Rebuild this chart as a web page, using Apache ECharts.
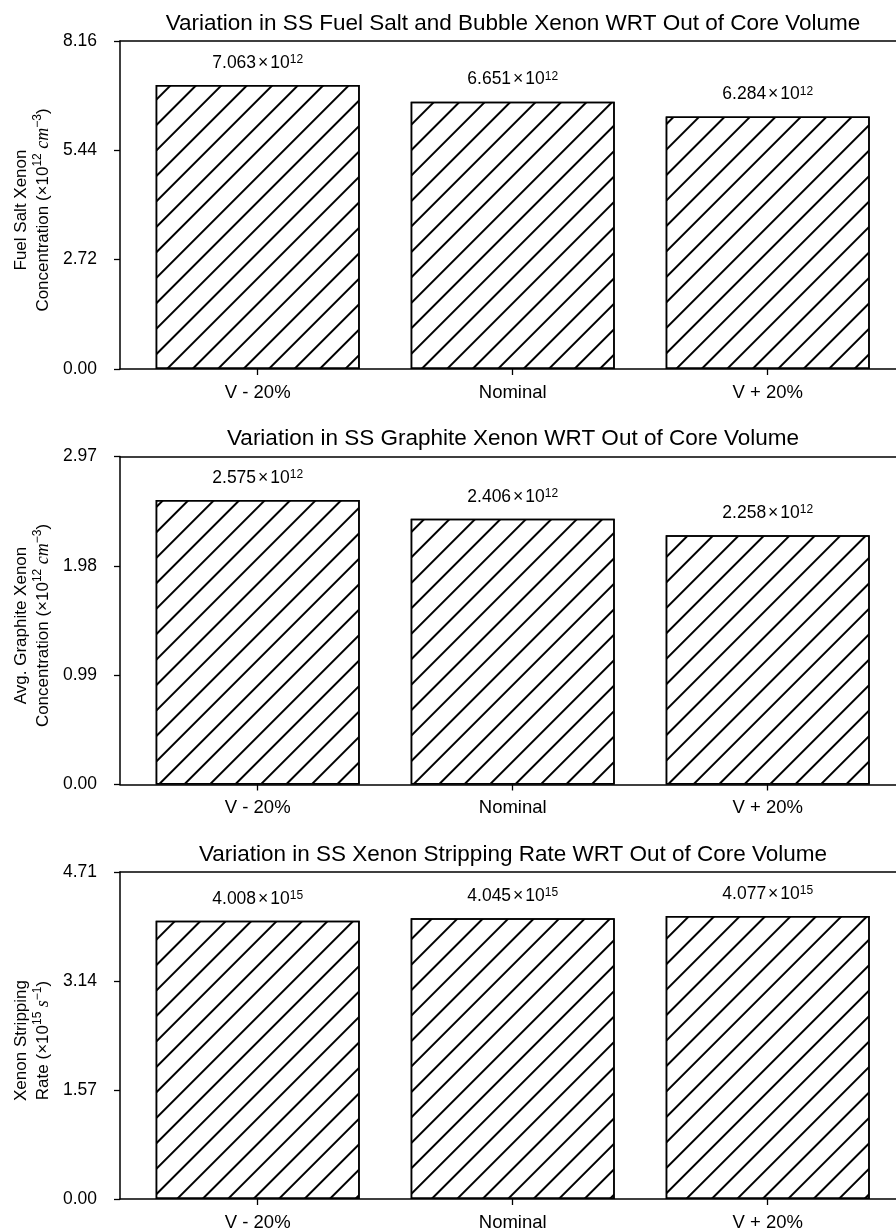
<!DOCTYPE html>
<html>
<head>
<meta charset="utf-8">
<title>Variation in SS Xenon WRT Out of Core Volume</title>
<script src="https://cdn.jsdelivr.net/npm/echarts@6/dist/echarts.min.js"></script>
<style>
  html, body { margin: 0; padding: 0; background: #fff; }
  #main { width: 896px; height: 1232px; }
</style>
</head>
<body>
<div id="main"></div>
<script>
// data
var categories = ['V - 20%', 'Nominal', 'V + 20%'];
var titles = [
  'Variation in SS Fuel Salt and Bubble Xenon WRT Out of Core Volume',
  'Variation in SS Graphite Xenon WRT Out of Core Volume',
  'Variation in SS Xenon Stripping Rate WRT Out of Core Volume'
];
var fuelSaltXenon = [7.063, 6.651, 6.284];
var graphiteXenon = [2.575, 2.406, 2.258];
var strippingRate = [4.008, 4.045, 4.077];
var exponents = [12, 12, 15];
var yMax = [8.16, 2.97, 4.71];
var yStep = [2.72, 0.99, 1.57];
var yNames = [
  '{n|Fuel Salt Xenon}\n{n|Concentration (×10}{s|12}{i| cm}{s|−3}{n|)}',
  '{n|Avg. Graphite Xenon}\n{n|Concentration (×10}{s|12}{i| cm}{s|−3}{n|)}',
  '{n|Xenon Stripping}\n{n|Rate (×10}{s|15}{i| s}{s|−1}{n|)}'
];

var seriesValues = [fuelSaltXenon, graphiteXenon, strippingRate];
var font = 'Liberation Sans';
var gridTops = [41, 456.5, 872];
// the right spine sits just past the page edge, so the x range is cut at 896px
var xMin = -0.54, xMax = 2.503;

var hatch = {
  symbol: 'rect',
  symbolSize: 1,
  color: '#000',
  backgroundColor: 'rgba(0,0,0,0)',
  dashArrayX: [1, 0],
  dashArrayY: [1.5, 15.5],
  rotation: -Math.PI / 4
};

var spine = { show: true, onZero: false, lineStyle: { color: '#000', width: 1.5 } };

var option = {
  animation: false,
  backgroundColor: '#fff',
  title: [],
  grid: [],
  xAxis: [],
  yAxis: [],
  series: []
};

for (var i = 0; i < 3; i++) {
  option.title.push({
    text: titles[i],
    left: 513,
    top: gridTops[i] - 29,
    textAlign: 'center',
    padding: 0,
    textStyle: { fontFamily: font, fontSize: 22.5, fontWeight: 'normal', color: '#000' }
  });
  option.grid.push({
    left: 120,
    top: gridTops[i],
    right: 0,
    height: 328
  });
  option.xAxis.push({
    type: 'value',
    gridIndex: i,
    min: xMin,
    max: xMax,
    splitLine: { show: false },
    axisLine: spine,
    axisTick: { show: true, customValues: [0, 1, 2], length: 6, lineStyle: { color: '#000', width: 1.3 } },
    axisLabel: {
      customValues: [0, 1, 2],
      margin: 14,
      color: '#000',
      fontFamily: font,
      fontSize: 18.5,
      formatter: function (v) { return categories[Math.round(v)]; }
    }
  });
  // top spine only
  option.xAxis.push({
    type: 'value',
    gridIndex: i,
    position: 'top',
    min: xMin,
    max: xMax,
    splitLine: { show: false },
    axisLine: spine,
    axisTick: { show: false },
    axisLabel: { show: false }
  });
  option.yAxis.push({
    type: 'value',
    gridIndex: i,
    min: 0,
    max: yMax[i],
    interval: yStep[i],
    name: yNames[i],
    nameLocation: 'middle',
    nameRotate: 90,
    nameGap: 64,
    nameTextStyle: {
      color: '#000',
      padding: [0, 10, 0, 0],
      rich: {
        n: { fontFamily: font, fontSize: 17, lineHeight: 22, color: '#000' },
        i: { fontFamily: 'Liberation Serif', fontStyle: 'italic', fontSize: 18, lineHeight: 22, color: '#000' },
        s: { fontFamily: font, fontSize: 12, verticalAlign: 'top', color: '#000' }
      }
    },
    splitLine: { show: false },
    axisLine: spine,
    axisTick: { show: true, length: 6, lineStyle: { color: '#000', width: 1.3 } },
    axisLabel: {
      margin: 23,
      color: '#000',
      fontFamily: font,
      fontSize: 17.5,
      formatter: function (v) { return v.toFixed(2); }
    }
  });
  option.series.push({
    type: 'bar',
    xAxisIndex: 2 * i,
    yAxisIndex: i,
    barWidth: '80%',
    data: seriesValues[i].map(function (v, k) { return [k, v]; }),
    itemStyle: { color: '#fff', borderColor: '#000', borderWidth: 1.5, decal: hatch },
    label: {
      show: true,
      position: 'top',
      distance: 13,
      formatter: (function (exp) {
        return function (p) {
          return '{m|' + p.value[1].toFixed(3) + '}{x|×}{m|10}{s|' + exp + '}';
        };
      })(exponents[i]),
      rich: {
        m: { fontFamily: font, fontSize: 17.5, color: '#000' },
        x: { fontFamily: font, fontSize: 17.5, color: '#000', padding: [0, 2] },
        s: { fontFamily: font, fontSize: 12, verticalAlign: 'top', color: '#000' }
      }
    }
  });
}

var chart = echarts.init(document.getElementById('main'));
chart.setOption(option);
</script>
</body>
</html>
